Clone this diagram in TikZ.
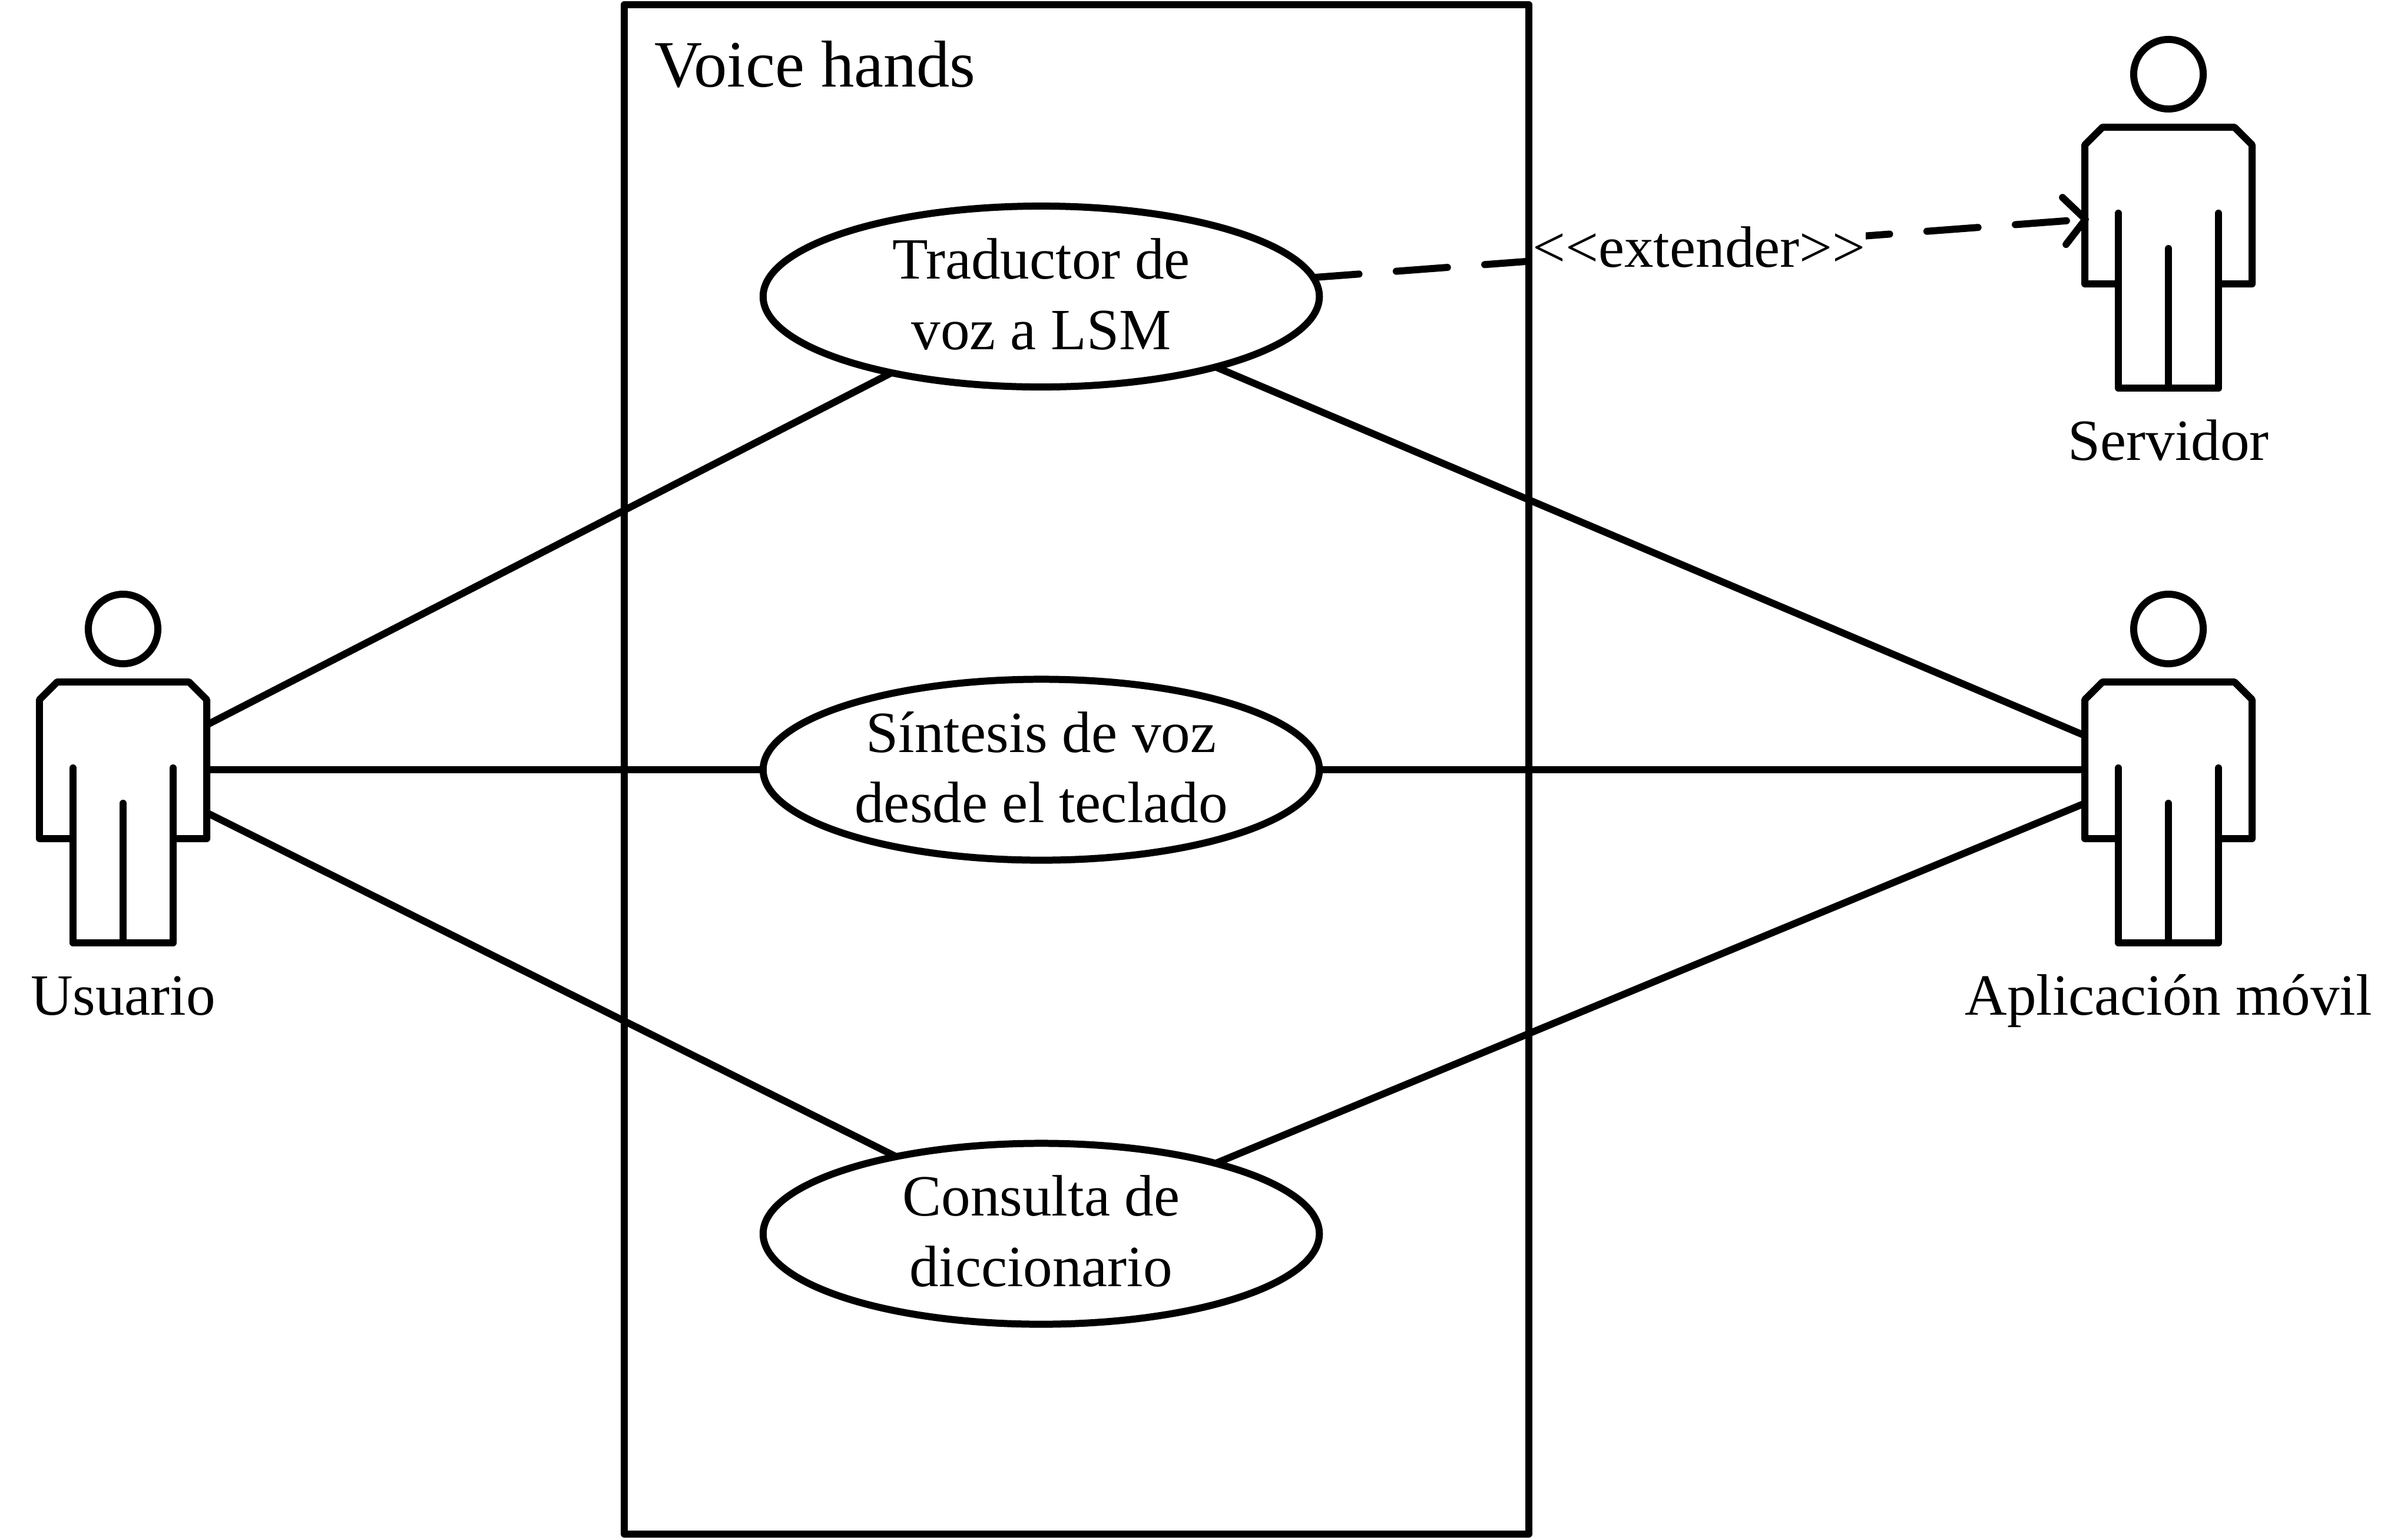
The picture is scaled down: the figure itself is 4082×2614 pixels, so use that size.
\documentclass[tikz,border=0pt]{standalone}
\usepackage{fontspec}
\setmainfont{Liberation Serif}
\usetikzlibrary{arrows.meta,shapes.geometric}
\tikzset{
  thick line/.style={line width=3.41pt,line join=round,line cap=round},
  usecase/.style={draw,ellipse,thick line,minimum width=9.44cm,minimum height=3.07cm,inner sep=0pt,outer sep=0pt,align=center,font=\uml,text depth=2.56pt},
  actorhead/.style={draw,circle,thick line,minimum size=1.18cm,inner sep=0pt,outer sep=0pt},
  actorlabel/.style={anchor=base,inner sep=0pt,font=\fontsize{28.2}{33.3}\selectfont},
  link/.style={thick line,line cap=butt},
}
\newcommand{\uml}{\fontsize{28.2}{34.1}\selectfont}
\newcommand{\actorfig}[4]{%
  \begin{scope}[shift={(#2,#3)}]
    \node[actorhead] (#1) at (0,1) {};
    \draw[thick line] (-85,357) -- (-142,357) -- (-142,121) -- (-112,91) -- (112,91) -- (142,121) -- (142,357) -- (85,357);
    \draw[thick line] (-85,237) -- (-85,534) -- (85,534) -- (85,237);
    \draw[thick line] (0,297) -- (0,534);
    \node[actorlabel] (#1-label) at (0,656) {#4};
    \coordinate (#1-a) at (142,164);
    \coordinate (#1-b) at (142,240);
    \coordinate (#1-c) at (142,313);
    \coordinate (#1-d) at (-142,182);
    \coordinate (#1-e) at (-142,240);
    \coordinate (#1-f) at (-142,297);
    \coordinate (#1-g) at (-135,247);
  \end{scope}}
\begin{document}
\begin{tikzpicture}[x=0.01cm,y=-0.01cm]
  \useasboundingbox (0,0) rectangle (4082,2614);
  \node[anchor=base west,inner sep=0pt,font=\fontsize{32}{38}\selectfont] (title) at (1111,147) {Voice hands};
  \node[usecase] (uc1) at (1768,503.5) {Traductor de\\voz a LSM};
  \node[usecase] (uc2) at (1768,1307) {Síntesis de voz\\desde el teclado};
  \node[usecase] (uc3) at (1768,2095) {Consulta de\\diccionario};
  \actorfig{usuario}{209}{1067}{Usuario}
  \actorfig{app}{3682}{1067}{Aplicación móvil}
  \actorfig{servidor}{3682}{125}{Servidor}
  \draw[link] (usuario-a) -- (uc1.207.2);
  \draw[link] (usuario-b) -- (uc2.west);
  \draw[link] (usuario-c) -- (uc3.152.7);
  \draw[link] (uc1.-22.8) -- (app-d);
  \draw[link] (uc2.east) -- (app-e);
  \draw[link] (uc3.22.9) -- (app-f);
  \draw[thick line,dash pattern=on 0.87cm off 0.635cm,dash phase=0.09cm,-{Straight Barb[round,length=0.36cm,width=0.8cm]}] (uc1.4.2) -- (servidor-g);
  \node[fill=white,inner sep=0pt,minimum width=5.66cm,minimum height=1.2cm,font=\uml,anchor=west] (ext) at (2601,420) {<\kern0pt<extender>\kern0pt>};
  \node[draw,thick line,rectangle,minimum width=15.35cm,minimum height=25.95cm,inner sep=0pt,outer sep=0pt,anchor=north west] (system) at (1060,8) {};
\end{tikzpicture}
\end{document}
